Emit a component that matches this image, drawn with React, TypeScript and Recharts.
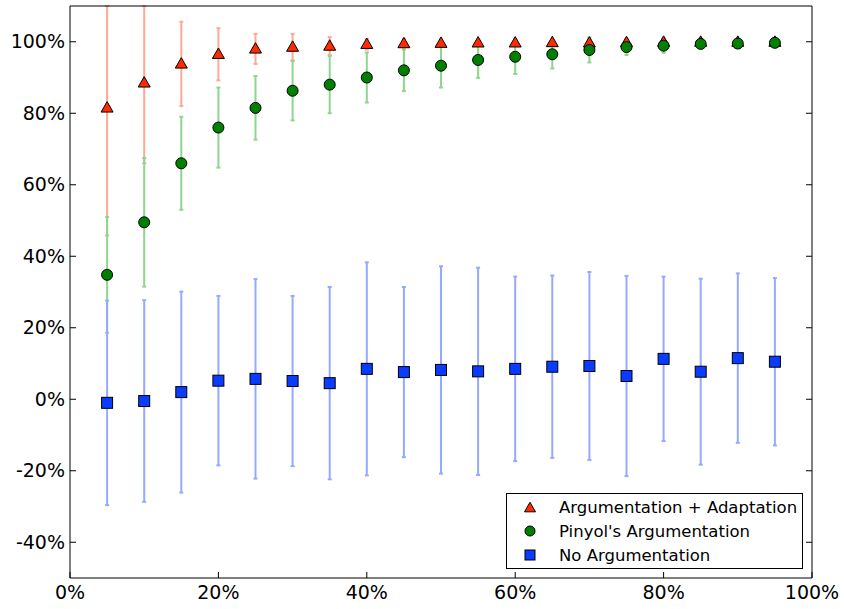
import {
  ScatterChart,
  Scatter,
  XAxis,
  YAxis,
  ErrorBar,
  Legend,
} from 'recharts'

// x positions (% of training data)
const xValues = [5, 10, 15, 20, 25, 30, 35, 40, 45, 50, 55, 60, 65, 70, 75, 80, 85, 90, 95]

// Argumentation + Adaptation
const adaptMean = [81.5, 88.5, 93.8, 96.5, 98.0, 98.5, 98.8, 99.3, 99.5, 99.6, 99.7, 99.7, 99.8, 99.7, 99.8, 99.9, 99.9, 99.9, 99.9]
const adaptErr = [35.7, 22.5, 11.8, 7.3, 4.2, 3.7, 2.5, 1.5, 1.2, 1.0, 0.8, 0.8, 0.7, 0.8, 0.6, 0.5, 0.4, 0.3, 0.3]

// Pinyol's Argumentation
const pinyolMean = [34.8, 49.5, 66.0, 76.0, 81.5, 86.3, 88.0, 90.0, 92.0, 93.3, 94.9, 95.8, 96.5, 97.7, 98.5, 98.9, 99.4, 99.5, 99.7]
const pinyolErr = [16.2, 18.0, 13.0, 11.2, 8.9, 8.3, 8.0, 7.0, 5.8, 6.1, 5.0, 4.8, 4.0, 3.5, 2.2, 2.0, 1.0, 0.9, 0.5]

// No Argumentation
const noArgMean = [-1.0, -0.5, 2.0, 5.2, 5.7, 5.1, 4.5, 8.5, 7.6, 8.2, 7.8, 8.5, 9.1, 9.3, 6.5, 11.3, 7.7, 11.5, 10.5]
const noArgErr = [28.6, 28.2, 28.1, 23.7, 27.9, 23.8, 26.9, 29.8, 23.8, 29.0, 29.0, 25.8, 25.5, 26.3, 28.0, 23.0, 26.0, 23.7, 23.4]

const xTicks = [0, 20, 40, 60, 80, 100]
const yTicks = [-40, -20, 0, 20, 40, 60, 80, 100]

const Y_MIN = -50
const Y_MAX = 110
const FONT = '"DejaVu Sans", sans-serif'

// error bars past the top of the axes are cut off, like in the original
function buildSeries(mean: number[], err: number[]) {
  return xValues.map((x, i) => ({
    x,
    y: mean[i],
    err: [
      Math.min(err[i], mean[i] - Y_MIN),
      Math.min(err[i], Y_MAX - mean[i]),
    ],
  }))
}

const adaptData = buildSeries(adaptMean, adaptErr)
const pinyolData = buildSeries(pinyolMean, pinyolErr)
const noArgData = buildSeries(noArgMean, noArgErr)

const RED = '#ff2a00'
const GREEN = '#008000'
const BLUE = '#0a3cff'

// recharts passes its own `size`, so marker size uses a separate prop
const Triangle = ({ cx, cy, side = 12 }: any) => {
  const h = side * 0.87
  return (
    <path
      d={`M${cx},${cy - h * 0.6} L${cx + side / 2},${cy + h * 0.4} L${cx - side / 2},${cy + h * 0.4} Z`}
      fill={RED}
      stroke="#000"
      strokeWidth={1}
    />
  )
}

const Circle = ({ cx, cy, rad = 5.5 }: any) => (
  <circle cx={cx} cy={cy} r={rad} fill={GREEN} stroke="#000" strokeWidth={1} />
)

const Square = ({ cx, cy, side = 11 }: any) => (
  <rect
    x={cx - side / 2}
    y={cy - side / 2}
    width={side}
    height={side}
    fill={BLUE}
    stroke="#000"
    strokeWidth={1}
  />
)

const legendItems = [
  { label: 'Argumentation + Adaptation', kind: 'tri' },
  { label: "Pinyol's Argumentation", kind: 'circle' },
  { label: 'No Argumentation', kind: 'square' },
]

function renderLegend() {
  return (
    <div
      style={{
        border: '1px solid #000',
        background: '#fff',
        width: 297,
        height: 76,
        boxSizing: 'border-box',
        fontFamily: FONT,
        fontSize: 16.5,
        paddingTop: 1,
      }}
    >
      {legendItems.map((item) => (
        <div key={item.label} style={{ display: 'flex', alignItems: 'center', height: 24 }}>
          <svg width={52} height={24} style={{ flex: 'none' }}>
            {item.kind === 'tri' && <Triangle cx={23} cy={13} side={11} />}
            {item.kind === 'circle' && <Circle cx={23} cy={12} rad={5} />}
            {item.kind === 'square' && <Square cx={23} cy={12} side={10} />}
          </svg>
          <span style={{ color: '#000', whiteSpace: 'nowrap' }}>{item.label}</span>
        </div>
      ))}
    </div>
  )
}

const tickStyle = { fontSize: 19, fill: '#000', fontFamily: FONT }

export default function App() {
  return (
    <div style={{ position: 'absolute', left: 0, top: 0, width: 844, height: 609, background: '#fff' }}>
      <ScatterChart
        width={844}
        height={609}
        margin={{ top: 5, right: 31, bottom: 0, left: 0 }}
      >
        <XAxis
          xAxisId="bottom"
          type="number"
          dataKey="x"
          domain={[0, 100]}
          ticks={xTicks}
          tickFormatter={(v) => `${v}%`}
          height={31}
          tick={tickStyle}
          tickSize={-6}
          tickMargin={14}
          stroke="#000"
        />
        <XAxis
          xAxisId="top"
          orientation="top"
          type="number"
          dataKey="x"
          domain={[0, 100]}
          ticks={xTicks}
          tickFormatter={() => ''}
          height={1}
          tickSize={-6}
          stroke="#000"
        />
        <YAxis
          yAxisId="left"
          type="number"
          dataKey="y"
          domain={[Y_MIN, Y_MAX]}
          ticks={yTicks}
          allowDataOverflow
          tickFormatter={(v) => `${v}%`}
          width={70}
          tick={tickStyle}
          tickSize={-6}
          tickMargin={11}
          stroke="#000"
        />
        <YAxis
          yAxisId="right"
          orientation="right"
          type="number"
          dataKey="y"
          domain={[Y_MIN, Y_MAX]}
          ticks={yTicks}
          allowDataOverflow
          tickFormatter={() => ''}
          width={1}
          tickSize={-6}
          stroke="#000"
        />
        <Legend
          layout="vertical"
          align="center"
          verticalAlign="middle"
          content={renderLegend}
          wrapperStyle={{ left: 506, top: 493, width: 297, height: 76 }}
        />
        <Scatter
          name="Argumentation + Adaptation"
          data={adaptData}
          xAxisId="bottom"
          yAxisId="left"
          shape={<Triangle />}
          isAnimationActive={false}
        >
          <ErrorBar dataKey="err" direction="y" width={2} stroke="#ffa896" strokeWidth={2} />
        </Scatter>
        <Scatter
          name="Pinyol's Argumentation"
          data={pinyolData}
          xAxisId="bottom"
          yAxisId="left"
          shape={<Circle />}
          isAnimationActive={false}
        >
          <ErrorBar dataKey="err" direction="y" width={2} stroke="#8ed68e" strokeWidth={2} />
        </Scatter>
        <Scatter
          name="No Argumentation"
          data={noArgData}
          xAxisId="bottom"
          yAxisId="left"
          shape={<Square />}
          isAnimationActive={false}
        >
          <ErrorBar dataKey="err" direction="y" width={2} stroke="#94aaff" strokeWidth={2} />
        </Scatter>
      </ScatterChart>
    </div>
  )
}
